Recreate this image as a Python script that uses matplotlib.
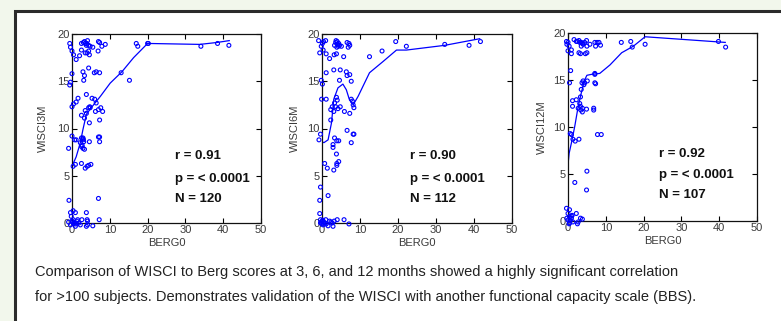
import matplotlib
matplotlib.use('Agg')
import matplotlib.pyplot as plt
from matplotlib import font_manager
from matplotlib.patches import Rectangle

# ---- data ----
x_3m = [-0.6, -0.4, 0.0, 0.4, 1.1, 2.0, 2.5, 2.5, 3.3, 3.5, 3.8, 4.1, 4.4, 4.4, 4.6, 4.8, 4.0, 3.5, 5.5,
        6.9, 7.0, 7.3, 7.9, 8.8, 17.0, 17.4, 20.0, 20.2, 34.1, 38.5, 41.5, 3.0, 3.9,
        0.0, -0.4, -0.6, 0.0, 0.4, 1.1, 1.6, 2.9, 3.3, 3.1, 4.4, 5.9, 6.4, 7.3, 3.8, 5.3, 6.0, 6.4,
        7.0, 7.6, 8.1, 6.2, 4.8, 4.4, 3.5, 2.5, 3.8, 3.3, 4.6, 7.3, 13.0, 15.2, 4.7, 2.9,
        -0.9, 0.0, 0.7, 1.1, 2.5, 2.9, 3.1, 2.2, 2.5, 2.9, 3.3, 4.6, 7.0, 7.3, 7.3, 2.5, 3.5, 4.0,
        4.4, 5.0, 0.3, 0.9, 3.0, 2.7,
        -0.8, 7.0, 3.8, 0.3, -0.4, 0.9, 7.2, 2.6, -0.2, 0.0, 0.4, 1.3, 1.8, 2.2, 4.1, 4.1, 5.5, 3.8,
        -0.9, -0.4, 0.9, 1.5, 4.0, 0.3, 0.6, 1.0, 0.2]
y_3m = [19.0, 18.6, 18.2, 17.8, 17.3, 17.7, 19.0, 18.3, 19.2, 19.0, 18.8, 19.3, 18.8, 18.2, 17.8, 18.7, 18.0, 18.0, 18.6,
        18.2, 19.2, 19.1, 18.7, 18.9, 19.0, 18.7, 19.0, 19.0, 18.7, 19.0, 18.8, 19.1, 19.0,
        15.8, 14.9, 14.6, 12.3, 12.6, 12.8, 13.2, 16.0, 15.6, 15.1, 16.4, 15.9, 16.0, 15.9, 13.6, 13.2, 13.1, 12.7,
        12.0, 12.2, 11.8, 11.8, 12.2, 12.2, 11.9, 11.4, 11.6, 11.1, 10.6, 10.9, 15.9, 15.1, 12.3, 8.9,
        7.9, 9.2, 8.8, 8.8, 9.0, 9.0, 8.6, 8.5, 8.1, 7.9, 7.8, 8.6, 9.1, 9.1, 8.6, 6.3, 5.8, 6.0,
        6.1, 6.2, 6.0, 6.2, 8.8, 8.2,
        2.4, 2.6, 1.1, 1.3, 1.1, 1.1, 0.35, 0.35, 0.7, 0.2, -0.1, 0.2, 0.0, -0.2, 0.2, -0.2, -0.3, -0.35,
        0.1, -0.2, -0.35, 0.35, 0.35, 0.35, 0.0, -0.1, 0.1]
fit_x_3m = [0.0, 1.1, 2.2, 2.9, 3.8, 5.3, 7.5, 10.1, 13.2, 16.3, 20.0, 33.8, 38.3, 41.6]
fit_y_3m = [6.0, 7.0, 8.5, 9.9, 11.5, 12.3, 13.4, 14.8, 16.0, 17.5, 19.0, 18.9, 19.1, 19.3]

x_6m = [-0.9, -0.2, 0.1, 0.4, 0.96, -0.6, 0.3, 1.1, 2.0, 3.2, 3.8, 4.0, 4.4, 4.6, 3.6, 3.3, 5.1, 5.7, 6.6,
        7.1, 7.3, 6.9, 4.3, 3.9, 19.4, 22.2, 32.3, 38.7, 41.7, 12.5, 15.8, 3.7, 4.1,
        -0.2, 0.1, -0.1, 1.1, 1.1, 3.1, 4.8, 6.4, 6.6, 7.3, 7.7, 4.6, 3.8, 4.0, 4.8, 4.2, 3.6, 3.3,
        2.7, 2.3, 3.1, 5.9, 7.3, 7.7, 8.0, 8.2, 8.4, 2.3, 6.6, 8.4, 8.2, 7.7, -0.8, -0.4, 3.3, 3.9,
        4.4, 2.9, 2.9, 3.8, 4.4, 3.9, 3.9, 3.1, 0.7, 1.4,
        -0.4, -0.6, 1.6, -0.6, -0.4, 0.1, -0.4, 0.3, 0.5, 1.0, 1.1, 1.6, 2.0, 2.7, 2.9, 3.2, 4.0, 5.8,
        7.1, -0.2, 0.0, 0.6, 2.4, 0.2]
y_6m = [19.3, 18.7, 19.0, 19.2, 19.3, 18.0, 18.3, 17.9, 17.4, 17.8, 17.9, 19.2, 19.0, 18.8, 19.1, 18.8, 18.7, 17.6, 19.1,
        19.0, 18.8, 18.6, 18.7, 18.6, 19.2, 18.7, 18.9, 18.8, 19.2, 17.6, 18.2, 19.3, 18.9,
        15.1, 14.7, 13.1, 15.9, 13.1, 16.2, 16.2, 16.0, 15.6, 15.7, 15.0, 15.1, 13.3, 13.0, 12.3, 12.1, 12.3, 12.7,
        12.3, 12.0, 11.8, 11.8, 11.6, 13.1, 12.9, 12.5, 12.2, 10.9, 9.8, 9.4, 9.4, 8.5, 8.8, 9.4, 9.0, 8.7,
        8.7, 8.3, 8.0, 7.3, 6.5, 6.3, 6.1, 5.6, 6.3, 5.8,
        3.8, 2.4, 2.9, 1.0, 0.35, 0.2, 0.0, -0.2, 0.1, 0.35, -0.1, -0.3, 0.2, 0.0, -0.35, 0.2, 0.35, 0.35,
        -0.1, 0.1, -0.1, 0.0, 0.1, 0.3]
fit_x_6m = [0.0, 0.5, 1.6, 2.5, 3.1, 4.2, 5.5, 6.4, 7.1, 8.2, 9.5, 12.5, 16.1, 19.6, 22.2, 32.3, 41.5]
fit_y_6m = [8.6, 8.5, 8.8, 10.6, 13.1, 14.3, 14.7, 14.1, 13.2, 12.5, 13.4, 15.9, 17.1, 18.3, 18.3, 18.8, 19.5]

x_12m = [-0.4, 0.0, -0.3, 0.3, 0.0, 0.9, 0.9, 1.6, 2.5, 2.9, 3.1, 3.5, 3.5, 4.0, 4.4, 4.9, 5.0, 5.8, 7.1,
         7.7, 7.3, 8.2, 8.6, 2.9, 3.3, 4.6, 5.0, 14.1, 16.6, 17.0, 20.4, 39.8, 41.7, 3.8, 2.2,
         0.7, 0.4, 1.2, 1.2, 2.2, 2.7, 3.1, 3.3, 3.5, 3.7, 4.0, 4.2, 4.4, 5.1, 3.8, 3.8, 4.9, 3.3,
         7.1, 7.1, 7.1, 7.3, 6.8, 6.8, 3.4, 0.6, 0.9, 1.3, 1.9, 2.9, 7.8, 8.8, 5.0, 1.8, 4.9,
         -0.4, 0.4, 0.0, 0.4, 0.9, 0.0, 0.4, 1.3, 2.2, 2.7, 3.3, 3.8, 2.5, 0.3, 0.9, -0.3, 0.6, 1.1]
y_12m = [19.1, 19.0, 18.8, 18.6, 18.1, 18.2, 17.8, 19.3, 19.1, 19.2, 19.0, 19.0, 18.6, 18.8, 19.0, 19.2, 18.6, 18.8, 19.0,
         19.0, 18.6, 19.0, 18.7, 17.9, 17.8, 17.8, 17.9, 19.0, 19.1, 18.5, 18.8, 19.1, 18.5, 18.9, 19.1,
         16.0, 14.7, 12.8, 12.2, 12.9, 12.0, 12.5, 13.2, 14.0, 14.7, 14.9, 14.5, 14.7, 14.9, 12.0, 11.6, 11.9, 12.2,
         15.7, 15.6, 14.7, 14.6, 12.0, 11.8, 11.8, 9.3, 9.2, 8.7, 8.5, 8.7, 9.2, 9.2, 5.3, 4.1, 3.3,
         1.35, 1.2, 0.8, 0.45, 0.3, 0.1, -0.2, -0.1, 0.8, -0.1, 0.3, 0.2, -0.3, -0.3, 0.5, 0.3, 0.0, 0.6]
fit_x_12m = [0.0, 0.3, 0.9, 1.8, 2.7, 3.5, 4.4, 5.0, 6.2, 8.4, 11.1, 14.2, 17.3, 20.4, 41.6]
fit_y_12m = [6.0, 7.2, 8.3, 10.1, 12.2, 13.6, 15.0, 15.5, 15.6, 15.7, 16.6, 17.9, 18.6, 19.6, 19.0]

y_labels = ['WISCI3M', 'WISCI6M', 'WISCI12M']
stats = [('0.91', '120'), ('0.90', '112'), ('0.92', '107')]
x_ticks = [0, 10, 20, 30, 40, 50]
y_ticks = [0, 5, 10, 15, 20]
caption_lines = ['Comparison of WISCI to Berg scores at 3, 6, and 12 months showed a highly significant correlation',
                 'for >100 subjects. Demonstrates validation of the WISCI with another functional capacity scale (BBS).']

# ---- fonts ----
have = {f.name for f in font_manager.fontManager.ttflist}
narrow = 'Liberation Sans Narrow' if 'Liberation Sans Narrow' in have else 'Liberation Sans'
plt.rcParams['font.family'] = ['Liberation Sans', 'DejaVu Sans']

W, H = 781, 321
fig = plt.figure(figsize=(W / 100, H / 100), dpi=100)
fig.patch.set_facecolor('#f2f7ec')

# white panel with dark frame, kept underneath the axes
frame = Rectangle((15.5 / W, -0.05), 1.0, (H - 11) / H + 0.05, transform=fig.transFigure,
                  facecolor='white', edgecolor='#2b2b2b', linewidth=2.2, zorder=-10)
fig.patches.append(frame)

# axes boxes in pixels: left, top, right, bottom
boxes = [(72, 34, 261, 223), (322, 34, 512, 223), (568, 33, 757, 221)]
ylab_x = [43, 295, 542]
stat_x = [27.3, 23.2, 24.1]
stat_y = [(7.05, 4.65, 2.55), (7.05, 4.65, 2.55), (7.1, 4.9, 2.8)]
series = [(x_3m, y_3m, fit_x_3m, fit_y_3m),
          (x_6m, y_6m, fit_x_6m, fit_y_6m),
          (x_12m, y_12m, fit_x_12m, fit_y_12m)]

for i, (l, t, r, b) in enumerate(boxes):
    ax = fig.add_axes([l / W, (H - b) / H, (r - l) / W, (b - t) / H])
    ax.set_facecolor('none')
    xs, ys, fx, fy = series[i]
    ax.plot(fx, fy, color='#0000ff', lw=0.9, zorder=2)
    ax.scatter(xs, ys, s=8, facecolors='none', edgecolors='#0000ff',
               linewidths=0.8, zorder=3, clip_on=False)
    ax.set_xlim(0, 50)
    ax.set_ylim(0, 20)
    ax.set_xticks(x_ticks)
    ax.set_yticks(y_ticks)
    ax.tick_params(direction='in', length=3.5, width=0.8, top=True, right=True,
                   labelsize=8, labelcolor='#3a3a3a', pad=1.5)
    for sp in ax.spines.values():
        sp.set_linewidth(0.9)
        sp.set_color('#111111')
    ax.set_xlabel('BERG0', fontsize=8, color='#3a3a3a', labelpad=2)
    fig.text(ylab_x[i] / W, (H - (t + b) / 2) / H, y_labels[i], rotation=90,
             fontsize=8, color='#3a3a3a', ha='center', va='center')
    rv, nv = stats[i]
    for txt, yy in zip(['r = ' + rv, 'p = < 0.0001', 'N = ' + nv], stat_y[i]):
        ax.text(stat_x[i], yy, txt, fontsize=9.5, fontweight='bold',
                ha='left', va='center', color='#111111')

for line, ypx in zip(caption_lines, [272, 297]):
    fig.text(35 / W, (H - ypx) / H, line, family=[narrow, 'DejaVu Sans'],
             fontsize=10.5, color='#222222', ha='left', va='center')

fig.savefig('out.png', dpi=100, facecolor=fig.get_facecolor())
